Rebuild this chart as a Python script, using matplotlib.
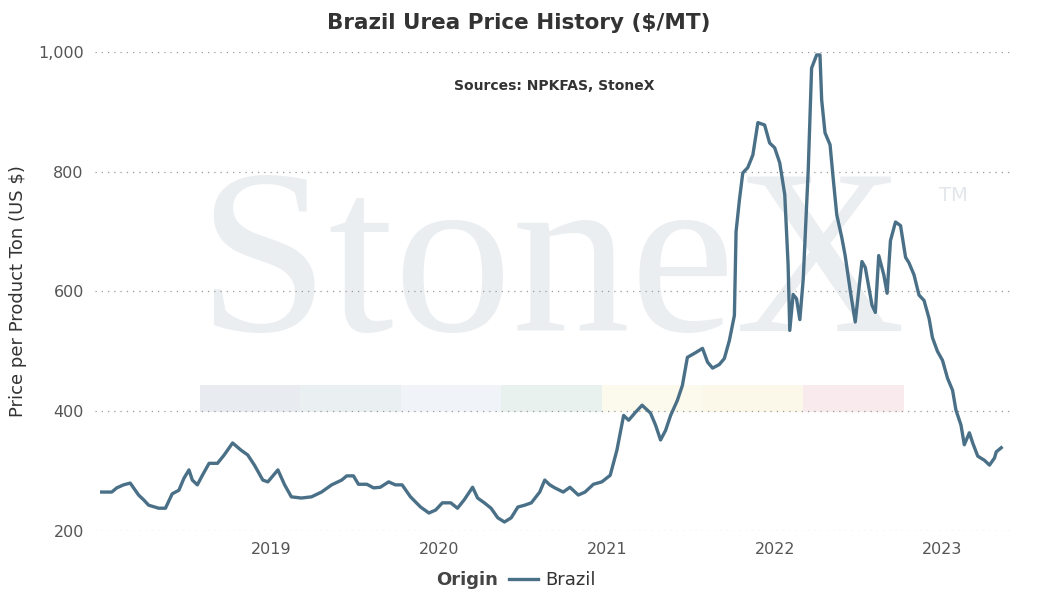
import matplotlib.pyplot as plt
from matplotlib.lines import Line2D
from matplotlib.patches import Rectangle
from matplotlib.offsetbox import HPacker

# decimal year, price $/MT
years = [2017.99, 2018.05, 2018.08, 2018.12, 2018.16, 2018.21, 2018.24, 2018.27, 2018.33, 2018.37,
         2018.41, 2018.45, 2018.48, 2018.51, 2018.53, 2018.56, 2018.59, 2018.63, 2018.68, 2018.72,
         2018.77, 2018.82, 2018.86, 2018.90, 2018.95, 2018.98, 2019.04, 2019.08, 2019.12, 2019.18,
         2019.24, 2019.30, 2019.36, 2019.42, 2019.45, 2019.49, 2019.52, 2019.57, 2019.61, 2019.65,
         2019.70, 2019.74, 2019.78, 2019.83, 2019.89, 2019.94, 2019.98, 2020.02, 2020.07, 2020.11,
         2020.15, 2020.20, 2020.23, 2020.27, 2020.31, 2020.35, 2020.39, 2020.43, 2020.47, 2020.51,
         2020.55, 2020.60, 2020.63, 2020.66, 2020.69, 2020.74, 2020.78, 2020.83, 2020.87, 2020.92,
         2020.97, 2021.02, 2021.06, 2021.10, 2021.13, 2021.17, 2021.21, 2021.26, 2021.29, 2021.32,
         2021.35, 2021.38, 2021.42, 2021.45, 2021.48, 2021.53, 2021.57, 2021.60, 2021.63, 2021.67,
         2021.70, 2021.73, 2021.76, 2021.77, 2021.79, 2021.81, 2021.84, 2021.87, 2021.90, 2021.94,
         2021.97, 2022.00, 2022.03, 2022.06, 2022.08, 2022.09, 2022.11, 2022.13, 2022.15, 2022.17,
         2022.20, 2022.22, 2022.25, 2022.27, 2022.28, 2022.30, 2022.33, 2022.35, 2022.37, 2022.40,
         2022.42, 2022.45, 2022.48, 2022.52, 2022.54, 2022.58, 2022.60, 2022.62, 2022.65, 2022.67,
         2022.69, 2022.72, 2022.75, 2022.78, 2022.80, 2022.83, 2022.86, 2022.89, 2022.92, 2022.94,
         2022.97, 2023.00, 2023.03, 2023.06, 2023.08, 2023.11, 2023.13, 2023.16, 2023.18, 2023.21,
         2023.25, 2023.28, 2023.31, 2023.32, 2023.35]
prices = [265, 265, 272, 277, 280, 260, 252, 243, 238, 238,
          262, 268, 288, 302, 285, 277, 293, 313, 313, 327,
          347, 335, 327, 310, 285, 282, 302, 277, 257, 255,
          257, 265, 277, 285, 292, 292, 278, 278, 272, 273,
          282, 277, 277, 257, 240, 230, 235, 247, 247, 238,
          252, 273, 255, 247, 238, 222, 215, 222, 240, 243,
          247, 265, 285, 277, 272, 265, 273, 260, 265, 278,
          282, 293, 335, 393, 385, 398, 410, 397, 377, 352,
          368, 393, 418, 443, 490, 498, 505, 482, 472, 478,
          488, 518, 560, 700, 753, 798, 807, 828, 882, 878,
          848, 840, 815, 762, 645, 535, 595, 588, 553, 620,
          803, 973, 995, 995, 920, 865, 845, 785, 728, 690,
          660, 602, 549, 650, 640, 577, 565, 660, 628, 597,
          685, 716, 710, 657, 648, 628, 594, 585, 555, 523,
          500, 485, 455, 435, 402, 377, 344, 364, 347, 325,
          318, 310, 322, 332, 339]

y_ticks = [200, 400, 600, 800, 1000]
x_ticks = [2019, 2020, 2021, 2022, 2023]
band_colors = ['#e8ecf0', '#eaeff2', '#f0f4f8', '#e9f1ee', '#fcfaec', '#fcf8e9', '#f9eaee']

fig = plt.figure(figsize=(10.38, 6.12), dpi=100)
ax = fig.add_axes([0.0915, 0.1324, 0.8844, 0.7827])

# watermark
ax.text(0.497, 0.535, 'StoneX', transform=ax.transAxes, ha='center', va='center',
        fontsize=170, family='Liberation Serif', color='#ebeef1', zorder=0)
ax.text(0.935, 0.70, 'TM', transform=ax.transAxes, ha='center', va='center',
        fontsize=14, color='#e3e6ea', zorder=0)
seg_w = (0.881 - 0.114) / len(band_colors)
for i, c in enumerate(band_colors):
    ax.add_patch(Rectangle((0.114 + i * seg_w, 0.248), seg_w, 0.057, transform=ax.transAxes,
                           color=c, zorder=0, lw=0))

ax.plot(years, prices, color='#4a7088', lw=2.4, zorder=3)

ax.set_xlim(2017.95, 2023.42)
ax.set_ylim(200, 1000)
ax.set_yticks(y_ticks)
ax.set_yticklabels([f'{v:,}' for v in y_ticks])
ax.set_xticks(x_ticks)
ax.tick_params(length=0, labelsize=11.5, colors='#555555', pad=8)
ax.grid(axis='y', linestyle=(0, (1, 4)), color='#999999', lw=0.9)
for s in ax.spines.values():
    s.set_visible(False)
ax.set_ylabel('Price per Product Ton (US $)', fontsize=13, color='#333333', labelpad=8)

fig.text(0.5, 0.962, 'Brazil Urea Price History ($/MT)', ha='center', va='center',
         fontsize=15.5, fontweight='bold', color='#333333')
ax.text(0.5, 0.928, 'Sources: NPKFAS, StoneX', transform=ax.transAxes, ha='center', va='center',
        fontsize=10, fontweight='bold', color='#333333')

handle = Line2D([0], [0], color='#4a7088', lw=2.4)
leg = fig.legend([handle], ['Brazil'], loc='center', bbox_to_anchor=(0.497, 0.052), frameon=False,
                 title='Origin', fontsize=13, handlelength=1.6, handletextpad=0.4)
leg.get_title().set_fontweight('bold')
leg.get_title().set_fontsize(13)
# put title to the left of the entry
leg._legend_box._children = [HPacker(children=[leg._legend_title_box, leg._legend_handle_box],
                                      pad=0, sep=8, align='center')]
leg.get_title().set_color('#444444')
for t in leg.get_texts():
    t.set_color('#333333')

fig.savefig('out.png', dpi=100)
